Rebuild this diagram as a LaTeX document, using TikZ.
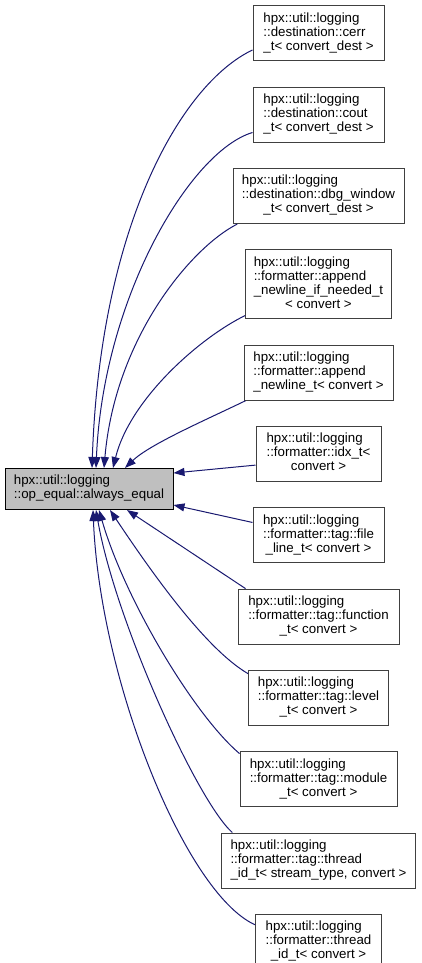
\documentclass[tikz,border=0pt]{standalone}
\usepackage{fontspec}
\setmainfont{Liberation Sans}
\usepackage{xcolor}
\usetikzlibrary{arrows.meta,positioning}
\definecolor{edgeblue}{HTML}{191970}
\definecolor{curfill}{HTML}{BFBFBF}
\definecolor{boxline}{HTML}{404040}
\newcommand{\cname}[2]{\begin{tabular}{@{}l@{}}#1\\\multicolumn{1}{@{}c@{}}{#2}\end{tabular}}

\begin{document}
\begin{tikzpicture}[x=1pt, y=-1pt, node distance=25.3pt,
    every node/.style={font=\fontsize{13.3}{14}\selectfont},
    cls/.style={draw=boxline, fill=white, line width=1pt, inner xsep=4pt, inner ysep=6.5pt},
    cur/.style={cls, draw=black, fill=curfill},
    inh/.style={draw=edgeblue, line width=1pt, -{Triangle[length=11pt,width=8pt]}}]
    \useasboundingbox (0,0) rectangle (421,963);

    % Base class
    \node[cur, minimum width=168pt] (main) at (89,489) {\cname{hpx::util::logging}{::op\_equal::always\_equal}};

    % Derived classes, one column on the right
    \node[cls, minimum width=131pt] (cerr) at (318.5,33.5) {\cname{hpx::util::logging\\::destination::cerr}{\_t< convert\_dest >}};
    \node[cls, minimum width=131pt, below=of cerr] (cout) {\cname{hpx::util::logging\\::destination::cout}{\_t< convert\_dest >}};
    \node[cls, minimum width=171pt, below=of cout] (dbgw) {\cname{hpx::util::logging\\::destination::dbg\_window}{\_t< convert\_dest >}};
    \node[cls, minimum width=146pt, below=of dbgw] (nlif) {\cname{hpx::util::logging\\::formatter::append\\\_newline\_if\_needed\_t}{< convert >}};
    \node[cls, minimum width=149pt, below=of nlif] (nl) {\cname{hpx::util::logging\\::formatter::append}{\_newline\_t< convert >}};
    \node[cls, minimum width=125pt, below=of nl] (idx) {\cname{hpx::util::logging\\::formatter::idx\_t<}{convert >}};
    \node[cls, minimum width=131pt, below=of idx] (fline) {\cname{hpx::util::logging\\::formatter::tag::file}{\_line\_t< convert >}};
    \node[cls, minimum width=161pt, below=of fline] (func) {\cname{hpx::util::logging\\::formatter::tag::function}{\_t< convert >}};
    \node[cls, minimum width=140pt, below=of func] (level) {\cname{hpx::util::logging\\::formatter::tag::level}{\_t< convert >}};
    \node[cls, minimum width=157pt, below=of level] (module) {\cname{hpx::util::logging\\::formatter::tag::module}{\_t< convert >}};
    \node[cls, minimum width=194pt, below=of module] (tidst) {\cname{hpx::util::logging\\::formatter::tag::thread}{\_id\_t< stream\_type, convert >}};
    \node[cls, minimum width=126pt, below=of tidst] (tid) {\cname{hpx::util::logging\\::formatter::thread}{\_id\_t< convert >}};

    % Inheritance arrows into the top
    \draw[inh] (cerr.194) .. controls +(-73,35) and +(8,-239) .. ([xshift=3pt]main.north);
    \draw[inh] (cout.195) .. controls +(-63,19) and +(7,-169) .. ([xshift=7pt]main.north);
    \draw[inh] (dbgw.199) .. controls +(-47,24) and +(11,-129) .. ([xshift=15pt]main.north);
    \draw[inh] (nlif.203) .. controls +(-45,22) and +(17,-69) .. ([xshift=24pt]main.north);
    \draw[inh] (nl.201) .. controls +(-37,18) and +(25,-24) .. ([xshift=36pt]main.north);

    % into the side
    \draw[inh] (idx.190) -- ([yshift=16pt]main.east);
    \draw[inh] (fline.169) -- ([yshift=-16pt]main.east);

    % into the bottom
    \draw[inh] (func.159) -- ([xshift=38pt]main.south);
    \draw[inh] (level.161) .. controls +(-43,-25) and +(40,60) .. ([xshift=21pt]main.south);
    \draw[inh] (module.162) .. controls +(-45,-38) and +(26,90) .. ([xshift=10pt]main.south);
    \draw[inh] (tidst.162) .. controls +(-35,-31) and +(19,110) .. ([xshift=7pt]main.south);
    \draw[inh] (tid.165) .. controls +(-70,-32) and +(7,170) .. ([xshift=4pt]main.south);
\end{tikzpicture}
\end{document}
